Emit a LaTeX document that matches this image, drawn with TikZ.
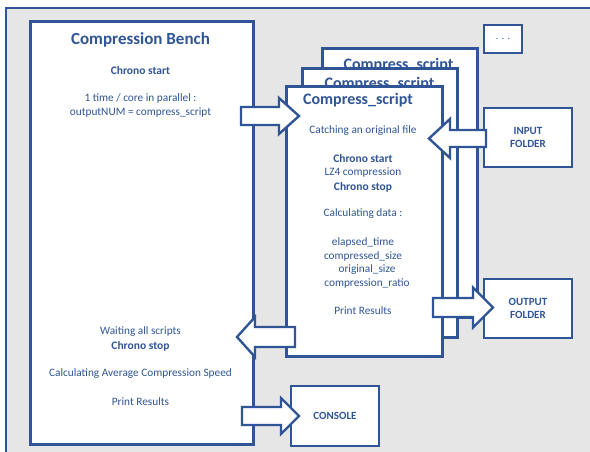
\documentclass[tikz,border=0pt]{standalone}
\usepackage{fontspec}
\setmainfont{Carlito}
\definecolor{dblue}{HTML}{2F5597}
\definecolor{bggray}{HTML}{E6E6E6}
\newcommand\blockarr[6]{% x_start, x_headbase, x_tip, cy, bodyhalf, headhalf
  \draw[arr] (#1,#4-#5) -- (#2,#4-#5) -- (#2,#4-#6) -- (#3,#4) -- (#2,#4+#6) -- (#2,#4+#5) -- (#1,#4+#5) -- cycle;}
\begin{document}
\begin{tikzpicture}[x=1pt,y=-1pt,
  box/.style={draw=dblue, line width=2.7pt, fill=white, inner sep=0pt, anchor=north west},
  smallbox/.style={draw=dblue, line width=2.7pt, fill=white, inner sep=0pt, text=dblue,
    font=\fontsize{11}{13}\selectfont\bfseries, align=center},
  arr/.style={draw=dblue, line width=2.4pt, fill=white, line join=miter},
  txt/.style={text=dblue, font=\fontsize{11.3}{14}\selectfont, align=center, inner sep=0pt},
  btxt/.style={txt, font=\fontsize{11.5}{14}\selectfont\bfseries},
  ttl/.style={text=dblue, font=\fontsize{17}{19}\selectfont\bfseries, inner sep=0pt},
  sttl/.style={text=dblue, font=\fontsize{16}{18}\selectfont\bfseries, inner sep=0pt}]
\useasboundingbox (0,0) rectangle (590,452);
% outer frame
\fill[bggray] (6,8) rectangle (595,460);
\draw[dblue, line width=2.7pt] (6,460) -- (6,8) -- (595,8);

% main box
\node[box, minimum width=223pt, minimum height=423pt] (bench) at (29,20) {};
\node[ttl] (benchttl) at (140.5,40) {Compression Bench};
\node[btxt] (cstart) at (140.5,71) {Chrono start};
\node[txt] (par) at (140.5,105) {1 time / core in parallel :\\outputNUM = compress\_script};
\node[txt] (wait) at (140.5,332) {Waiting all scripts};
\node[btxt] (cstop) at (140.5,346) {Chrono stop};
\node[txt] (avg) at (140.5,374) {Calculating Average Compression Speed};
\node[txt] (print1) at (140.5,402) {Print Results};

% stacked compress_script boxes
\node[box, minimum width=155pt, minimum height=269pt] (cs3) at (321,47) {};
\node[sttl] (cs3t) at (398.5,65) {Compress\_script};
\node[box, minimum width=155pt, minimum height=269pt] (cs2) at (301,67) {};
\node[sttl] (cs2t) at (379.5,84) {Compress\_script};
\node[box, minimum width=156pt, minimum height=270pt] (cs1) at (285,85) {};
\node[sttl] (cs1t) at (358,100) {Compress\_script};
\node[txt] (catch) at (363,131) {Catching an original file};
\node[btxt] (cs1start) at (363,159) {Chrono start};
\node[txt] (lz4) at (363,173) {LZ4 compression};
\node[btxt] (cs1stop) at (363,187) {Chrono stop};
\node[txt] (calc) at (363,214) {Calculating data :};
\node[txt] (et) at (363,242) {elapsed\_time};
\node[txt] (cz) at (363,256) {compressed\_size};
\node[txt] (os) at (367,270) {original\_size};
\node[txt] (cr) at (367,283.5) {compression\_ratio};
\node[txt] (print2) at (363,311) {Print Results};

% side boxes
\node[smallbox, minimum width=38pt, minimum height=28pt, font=\fontsize{10}{12}\selectfont] (dots) at (503,39) {.\,\,.\,\,.};
\node[smallbox, minimum width=88pt, minimum height=59pt] (input) at (528,137.5) {INPUT\\FOLDER};
\node[smallbox, minimum width=88pt, minimum height=59pt] (output) at (528,308.5) {OUTPUT\\FOLDER};
\node[smallbox, minimum width=88pt, minimum height=60pt] (console) at (335,416) {CONSOLE};

% block arrows
\blockarr{241}{279}{299}{116}{9}{18}
\blockarr{486}{450}{429}{138.5}{8.5}{19.5}
\blockarr{433}{473}{493}{307.5}{9.5}{20}
\blockarr{295}{255}{237}{337}{10}{20}
\blockarr{242}{281}{299}{416}{9}{18}
\end{tikzpicture}
\end{document}
